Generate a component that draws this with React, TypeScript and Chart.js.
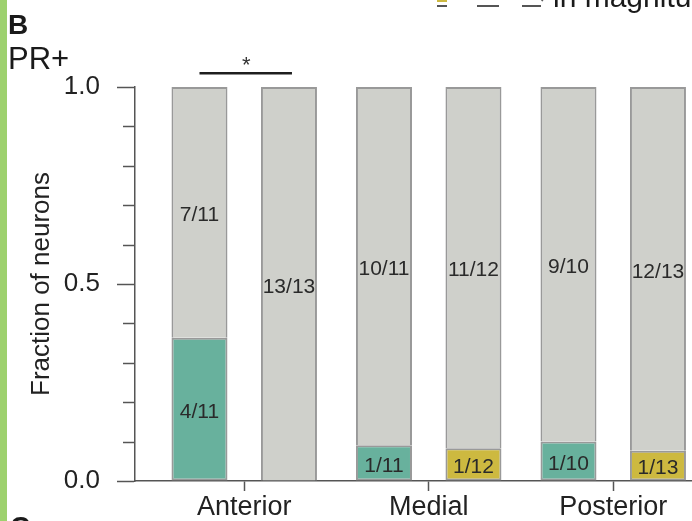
import React, { useEffect, useRef } from 'react';
import { Chart, registerables } from 'chart.js';

Chart.register(...registerables);

// ---- data ----
const categories = ['Anterior', 'Medial', 'Posterior'];
const categoryPositions = [0, 1, 2];
const leftCounts = [4, 1, 1];
const leftTotals = [11, 11, 10];
const rightCounts = [0, 1, 1];
const rightTotals = [13, 12, 13];
const yMajorTicks = [0, 0.5, 1];
const yMinorTicks = [0.1, 0.2, 0.3, 0.4, 0.6, 0.7, 0.8, 0.9];
const sigCategory = 0;
const sigLabel = '*';
const sigLevel = 1.035;

// ---- style ----
const FONT = '"Liberation Sans", Arial, Helvetica, sans-serif';
const TEAL = '#68b19d';
const YELLOW = '#cdb940';
const GRAY = '#cfd0cb';
const EDGE = '#999999';
const AXIS = '#555555';
const TEXT = '#222222';

const pts = (vals: number[]) => categoryPositions.map((x, i) => ({ x, y: vals[i] }));
const frac = (c: number[], t: number[]) => c.map((v, i) => v / t[i]);
const rest = (c: number[], t: number[]) => c.map((v, i) => (t[i] - v) / t[i]);
const lab = (c: number[], t: number[]) => c.map((v, i) => (v > 0 ? `${v}/${t[i]}` : ''));
const labRest = (c: number[], t: number[]) => c.map((v, i) => `${t[i] - v}/${t[i]}`);

const segmentLabels = {
  id: 'segmentLabels',
  afterDatasetsDraw(chart: any) {
    const ctx = chart.ctx;
    ctx.save();
    ctx.font = `21px ${FONT}`;
    ctx.fillStyle = '#2a2a2a';
    ctx.textAlign = 'center';
    ctx.textBaseline = 'middle';
    chart.data.datasets.forEach((ds: any, di: number) => {
      const meta = chart.getDatasetMeta(di);
      meta.data.forEach((el: any, i: number) => {
        const text = ds.segLabels?.[i];
        if (!text) return;
        const { x, y, base } = el.getProps(['x', 'y', 'base'], true);
        ctx.fillText(text, x, (y + base) / 2 + 3);
      });
    });
    ctx.restore();
  },
};

const minorTicks = {
  id: 'minorTicks',
  afterDraw(chart: any) {
    const ys = chart.scales.y;
    const ctx = chart.ctx;
    const x0 = chart.chartArea.left;
    ctx.save();
    ctx.strokeStyle = AXIS;
    ctx.lineWidth = 1.5;
    yMinorTicks.forEach((v) => {
      const py = Math.round(ys.getPixelForValue(v)) + 0.5;
      ctx.beginPath();
      ctx.moveTo(x0 - 12, py);
      ctx.lineTo(x0, py);
      ctx.stroke();
    });
    ctx.restore();
  },
};

const significance = {
  id: 'significance',
  afterDraw(chart: any) {
    const a = chart.getDatasetMeta(1).data[sigCategory];
    const b = chart.getDatasetMeta(3).data[sigCategory];
    if (!a || !b) return;
    const ctx = chart.ctx;
    const py = chart.scales.y.getPixelForValue(sigLevel);
    ctx.save();
    ctx.strokeStyle = '#1e1e1e';
    ctx.lineWidth = 2.5;
    ctx.beginPath();
    ctx.moveTo(a.x, py);
    ctx.lineTo(b.x + 3, py);
    ctx.stroke();
    ctx.fillStyle = '#333';
    ctx.font = `22px ${FONT}`;
    ctx.textAlign = 'center';
    ctx.textBaseline = 'alphabetic';
    ctx.fillText(sigLabel, (a.x + b.x) / 2 + 2, py - 1);
    ctx.restore();
  },
};

export default function App() {
  const ref = useRef<HTMLCanvasElement>(null);

  useEffect(() => {
    if (!ref.current) return;
    const chart = new Chart(ref.current, {
      type: 'bar',
      data: {
        datasets: [
          {
            label: 'left responders',
            stack: 'left',
            data: pts(frac(leftCounts, leftTotals)),
            backgroundColor: TEAL,
            borderColor: EDGE,
            borderWidth: 2,
            borderSkipped: false,
            segLabels: lab(leftCounts, leftTotals),
          } as any,
          {
            label: 'left others',
            stack: 'left',
            data: pts(rest(leftCounts, leftTotals)),
            backgroundColor: GRAY,
            borderColor: EDGE,
            borderWidth: { top: 2, left: 2, right: 2, bottom: 0 },
            borderSkipped: false,
            segLabels: labRest(leftCounts, leftTotals),
          } as any,
          {
            label: 'right responders',
            stack: 'right',
            data: pts(frac(rightCounts, rightTotals)),
            backgroundColor: YELLOW,
            borderColor: EDGE,
            borderWidth: 2,
            borderSkipped: false,
            segLabels: lab(rightCounts, rightTotals),
          } as any,
          {
            label: 'right others',
            stack: 'right',
            data: pts(rest(rightCounts, rightTotals)),
            backgroundColor: GRAY,
            borderColor: EDGE,
            borderWidth: { top: 2, left: 2, right: 2, bottom: 0 },
            borderSkipped: false,
            segLabels: labRest(rightCounts, rightTotals),
          } as any,
        ],
      },
      options: {
        animation: false,
        responsive: false,
        maintainAspectRatio: false,
        devicePixelRatio: 1,
        layout: { padding: { top: 87, left: 0, right: 0, bottom: 0 } },
        datasets: { bar: { categoryPercentage: 0.97, barPercentage: 0.626 } },
        plugins: { legend: { display: false }, tooltip: { enabled: false } },
        scales: {
          x: {
            type: 'linear',
            min: -0.592,
            max: 2.427,
            offset: false,
            grid: {
              display: true,
              offset: false,
              drawOnChartArea: false,
              drawTicks: true,
              tickLength: 10,
              tickColor: AXIS,
              tickWidth: 1.5,
            },
            border: { display: true, color: AXIS, width: 1.5 },
            ticks: {
              color: TEXT,
              padding: 0,
              maxRotation: 0,
              autoSkip: false,
              font: { family: FONT, size: 27 },
              callback: (v: any) => categories[v] ?? '',
            },
            afterBuildTicks: (s: any) => {
              s.ticks = categoryPositions.map((v) => ({ value: v }));
            },
            afterFit: (s: any) => {
              s.height = 40;
            },
          },
          y: {
            type: 'linear',
            min: 0,
            max: 1,
            stacked: true,
            grid: {
              display: true,
              drawOnChartArea: false,
              drawTicks: true,
              tickLength: 18,
              tickColor: AXIS,
              tickWidth: 1.5,
            },
            border: { display: true, color: AXIS, width: 1.5 },
            ticks: {
              color: TEXT,
              padding: 17,
              font: { family: FONT, size: 26 },
              callback: (v: any) => Number(v).toFixed(1),
            },
            afterBuildTicks: (s: any) => {
              s.ticks = yMajorTicks.map((v) => ({ value: v }));
            },
            afterFit: (s: any) => {
              s.width = 135;
            },
            title: {
              display: true,
              text: 'Fraction of neurons',
              color: TEXT,
              font: { family: FONT, size: 26 },
              padding: { top: 26, bottom: 0 },
            },
          },
        },
      },
      plugins: [segmentLabels, minorTicks, significance],
    });
    return () => chart.destroy();
  }, []);

  const txt: React.CSSProperties = {
    position: 'absolute',
    fontFamily: FONT,
    color: '#1a1a1a',
    lineHeight: 1,
    whiteSpace: 'nowrap',
    margin: 0,
  };

  return (
    <div style={{ position: 'absolute', left: 0, top: 0, width: 692, height: 521, overflow: 'hidden', background: '#fff' }}>
      <canvas ref={ref} width={692} height={521} style={{ position: 'absolute', left: 0, top: 0, width: 692, height: 521 }} />
      <div style={{ position: 'absolute', left: 0, top: 0, width: 7, height: 521, background: '#9dd16e' }} />
      <div style={{ ...txt, left: 8, top: 11, fontSize: 28, fontWeight: 'bold' }}>B</div>
      <div style={{ ...txt, left: 8, top: 43, fontSize: 31 }}>PR+</div>
      <div style={{ ...txt, left: 10, top: 513, fontSize: 28, fontWeight: 'bold' }}>C</div>
      <div style={{ position: 'absolute', left: 437, top: 0, width: 10, height: 2, background: YELLOW }} />
      <div style={{ position: 'absolute', left: 437, top: 5, width: 10, height: 2, background: '#555' }} />
      <div style={{ position: 'absolute', left: 477, top: 5, width: 22, height: 2, background: '#555' }} />
      <div style={{ position: 'absolute', left: 522, top: 5, width: 19, height: 2, background: '#555' }} />
      <div style={{ ...txt, left: 538, top: -12, fontSize: 16, color: '#555' }}>↓</div>
      <div style={{ ...txt, left: 553, top: -18, fontSize: 30 }}>in magnitude</div>
    </div>
  );
}
